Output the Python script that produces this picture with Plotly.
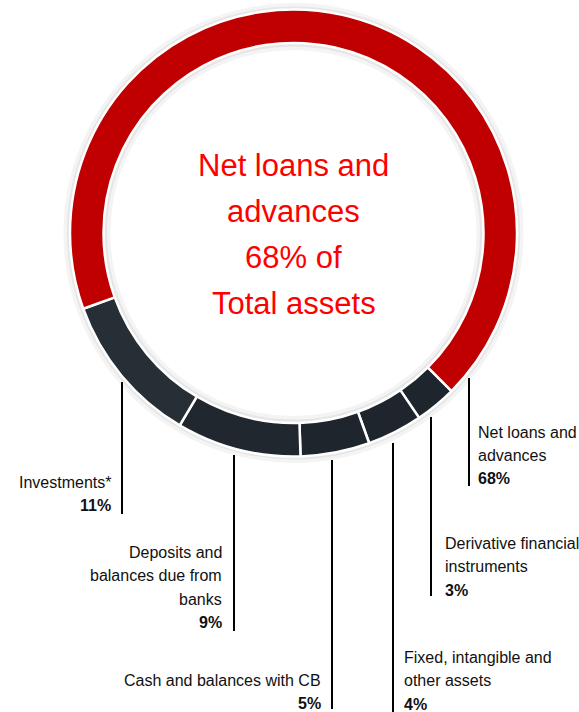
import plotly.graph_objects as go

# Asset mix (% of total assets), listed clockwise starting at the lower right
categories = [
    "Derivative financial<br>instruments",
    "Fixed, intangible and<br>other assets",
    "Cash and balances with CB",
    "Deposits and<br>balances due from<br>banks",
    "Investments*",
    "Net loans and<br>advances",
]
shares = [3, 4, 5, 9, 11, 68]
slice_colors = ["#1e252c", "#1e252c", "#1e252c", "#20272e", "#262e36", "#c00000"]
center_lines = ["Net loans and", "advances", "68% of", "Total assets"]

W, H = 579, 712
CX, CY = 293.5, 233.0      # ring centre (px)
R_OUT, R_IN = 223.5, 190.0  # ring radii (px)


def fx(px):
    return px / W


def fy(py):
    return 1 - py / H


def ring_domain(r):
    return dict(x=[fx(CX - r), fx(CX + r)], y=[fy(CY + r), fy(CY - r)])


fig = go.Figure()

# soft halo behind the ring
for r_o, r_i, col in [(230, 183, "#f4f4f4"), (226.5, 186.5, "#e6e6e6")]:
    fig.add_trace(go.Pie(
        values=[1], labels=["halo"], hole=r_i / r_o, domain=ring_domain(r_o),
        marker=dict(colors=[col], line=dict(width=0)),
        textinfo="none", hoverinfo="skip", showlegend=False, sort=False,
    ))

fig.add_trace(go.Pie(
    labels=categories, values=shares, hole=R_IN / R_OUT, domain=ring_domain(R_OUT),
    sort=False, direction="clockwise", rotation=135,
    marker=dict(colors=slice_colors, line=dict(color="white", width=2.5)),
    textinfo="none", hoverinfo="label+percent", showlegend=False,
))

# centre caption
for i, line in enumerate(center_lines):
    fig.add_annotation(
        x=fx(CX), y=fy(165 + 46 * i), xref="paper", yref="paper",
        text=line, showarrow=False, xanchor="center", yanchor="middle",
        font=dict(family="Liberation Sans, Arial", size=31, color="#ff0000"),
    )

# label layout: (text x, first line y, anchor side, leader x, leader top, leader bottom)
label_layout = [
    (443, 543, "left", 431, 417, 596),
    (402, 657, "left", 393, 443, 712),
    (323, 680, "right", 332, 460, 709),
    (224, 552, "right", 234, 455, 631),
    (113, 482, "right", 122, 382, 514),
    (476, 432, "left", 469, 378, 486),
]
LINE_STEP = 23.5

for name, val, (tx, ty, side, lx, ly0, ly1) in zip(categories, shares, label_layout):
    rows = name.split("<br>") + [f"<b>{val}%</b>"]
    for j, row in enumerate(rows):
        fig.add_annotation(
            x=fx(tx), y=fy(ty + LINE_STEP * j), xref="paper", yref="paper",
            text=row, showarrow=False, xanchor=side, yanchor="middle",
            font=dict(family="Liberation Sans, Arial", size=16, color="#111111"),
        )
    fig.add_shape(
        type="line", xref="paper", yref="paper",
        x0=fx(lx), x1=fx(lx), y0=fy(ly0), y1=fy(ly1),
        line=dict(color="#000000", width=2),
    )

fig.update_layout(
    width=W, height=H,
    margin=dict(l=0, r=0, t=0, b=0),
    paper_bgcolor="white", plot_bgcolor="white",
    showlegend=False,
)

fig.write_html("out.html")
